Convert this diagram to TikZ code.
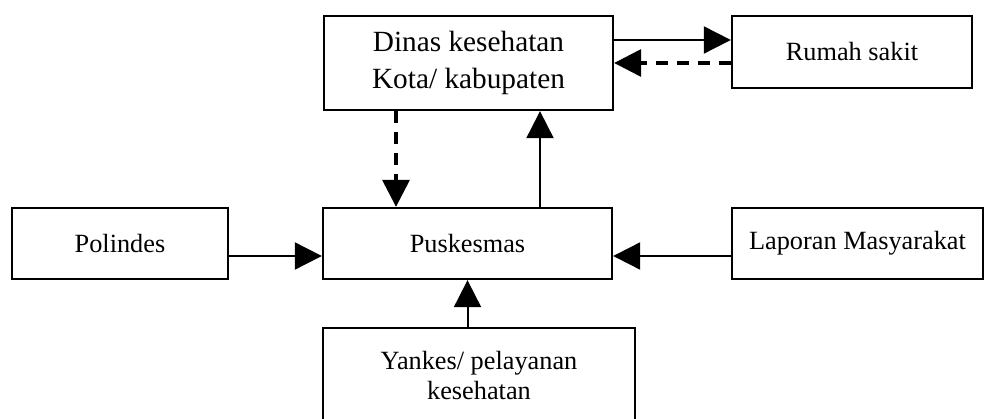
\documentclass[tikz,border=0pt]{standalone}
\usepackage{fontspec}
\setmainfont{Liberation Serif}
\usetikzlibrary{arrows.meta}

\begin{document}
\begin{tikzpicture}[
		x=1pt, y=-1pt,
		blok/.style={draw,fill=white,line width=2.3pt,inner sep=0pt,align=center,
			font=\fontsize{26.3}{30}\selectfont},
		garis/.style={line width=2pt},
		putus/.style={line width=3.3pt,dash pattern=on 12pt off 9pt},
		>={Triangle[length=27pt,width=27pt]}]
	%% frame
	\clip (0,0) rectangle (984,419);
	\fill[white] (0,0) rectangle (984,419);
	%% boxes
	\node (dinas) at (468.5,63) [blok, minimum width=289pt, minimum height=94pt,
		font=\fontsize{29.3}{37}\selectfont] {Dinas kesehatan\\Kota/ kabupaten};
	\node (rs) at (852,52) [blok, minimum width=240pt, minimum height=72pt] {Rumah sakit};
	\node (pol) at (120,243.5) [blok, minimum width=216pt, minimum height=71pt] {Polindes};
	\node (pusk) at (467.5,243.5) [blok, minimum width=289pt, minimum height=71pt] {Puskesmas};
	\node (lap) at (857.5,243.5) [blok, minimum width=251pt, minimum height=71pt] {Laporan Masyarakat};
	\node (yankes) at (479,376) [blok, minimum width=312pt, minimum height=96pt] {Yankes/ pelayanan\\kesehatan};
	%% dinas <-> rumah sakit
	\draw[garis,->] ([yshift=23pt]dinas.east) -- ([yshift=23pt]dinas.east -| rs.west);
	\draw[putus,->] ([yshift=-11pt]rs.west) -- ([yshift=-11pt]rs.west -| dinas.east);
	%% dinas <-> puskesmas
	\draw[putus,->] ([xshift=-72.5pt]dinas.south) -- ([xshift=-72.5pt]dinas.south |- pusk.north);
	\draw[garis,->] ([xshift=72.5pt]pusk.north) -- ([xshift=72.5pt]pusk.north |- dinas.south);
	%% into puskesmas
	\draw[garis,->] ([yshift=-12.5pt]pol.east) -- ([yshift=-12.5pt]pol.east -| pusk.west);
	\draw[garis,->] ([yshift=-12.5pt]lap.west) -- ([yshift=-12.5pt]lap.west -| pusk.east);
	\draw[garis,->] (yankes.north -| pusk.south) -- (pusk.south);
\end{tikzpicture}
\end{document}
